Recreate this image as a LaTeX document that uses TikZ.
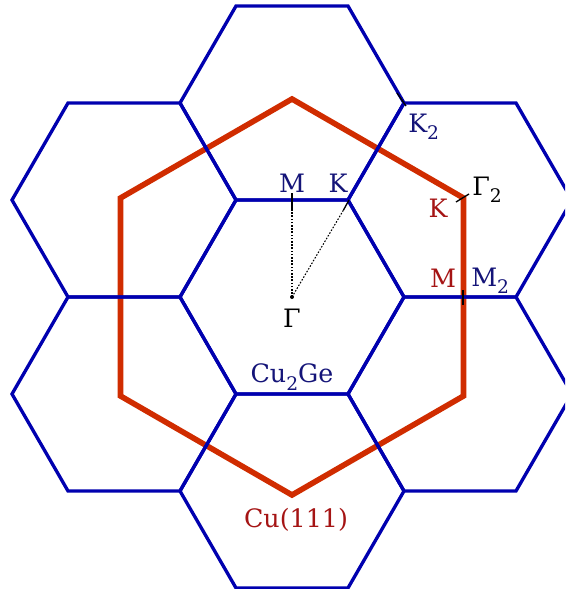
\documentclass[tikz,border=0pt]{standalone}
\usepackage{fontspec}
\setmainfont{DejaVu Serif}
\definecolor{hexblue}{RGB}{0,0,175}
\definecolor{hexred}{RGB}{208,44,0}
\definecolor{lblblue}{RGB}{20,20,120}
\definecolor{lblred}{RGB}{165,20,20}
\newcommand\lsub[1]{\raisebox{-0.55ex}{\fontsize{14}{14}\selectfont #1}}
\tikzset{
  bluehex/.style={draw=hexblue,line width=2.5pt,line join=miter},
  redhex/.style={draw=hexred,line width=4.2pt,line join=miter},
  lbl/.style={inner sep=0pt,font=\fontsize{19}{19}\selectfont},
  tick/.style={draw=black,line width=1pt},
  guide/.style={draw=black,line width=0.8pt,dash pattern=on 1.2pt off 1.2pt}
}
\begin{document}
\begin{tikzpicture}[x=0.75pt,y=-0.75pt]
\useasboundingbox (0,0) rectangle (565,589);
\clip (0,0) rectangle (565,589);
% red Cu(111) zone (pointy top)
\draw[redhex] (292,297) +(90:198) -- +(150:198) -- +(210:198) -- +(270:198) -- +(330:198) -- +(30:198) -- cycle;
% blue Cu2Ge zones (flat top)
\foreach \cx/\cy in {292/297,292/103,292/491,124/200,124/394,460/200,460/394}{
  \draw[bluehex] (\cx,\cy) +(0:112) -- +(60:112) -- +(120:112) -- +(180:112) -- +(240:112) -- +(300:112) -- cycle;
}
% points
\coordinate (G) at (292,297);
\coordinate (Mv) at (292,200);
\coordinate (Kv) at (349,200);
\coordinate (Mt) at (292,210);
\coordinate (Kt) at (343.5,210);
\fill (G) circle (2);
\draw[guide] (G) -- (Mt);
\draw[guide] (G) -- (Kt);
\draw[tick] (292,193) -- (Mt);
\draw[tick] (Kv) -- (Kt);
% K2 tick
\draw[tick] (397,93) -- (406,106);
% Gamma2 tick
\draw[tick] (456,202) -- (469,194);
% M / M2 tick
\draw[tick] (463,290) -- (463,305);
% labels
\node[lbl,text=lblblue] (lM) at (292,183) {M};
\node[lbl,text=lblblue] (lK) at (338,183) {K};
\node[lbl,text=black] (lG) at (292,318) {Γ};
\node[lbl,text=lblblue,anchor=west] (lK2) at (408,127) {K\lsub{2}};
\node[lbl,text=black,anchor=west] (lG2) at (472,190) {Γ\lsub{2}};
\node[lbl,text=lblred] (lKr) at (438,208) {K};
\node[lbl,text=lblred] (lMr) at (443,278) {M};
\node[lbl,text=lblblue,anchor=west] (lM2) at (471,281) {M\lsub{2}};
\node[lbl,text=lblblue] (lCuGe) at (292,377) {Cu\lsub{2}Ge};
\node[lbl,text=lblred] (lCu) at (296,520) {Cu(111)};
\end{tikzpicture}
\end{document}
